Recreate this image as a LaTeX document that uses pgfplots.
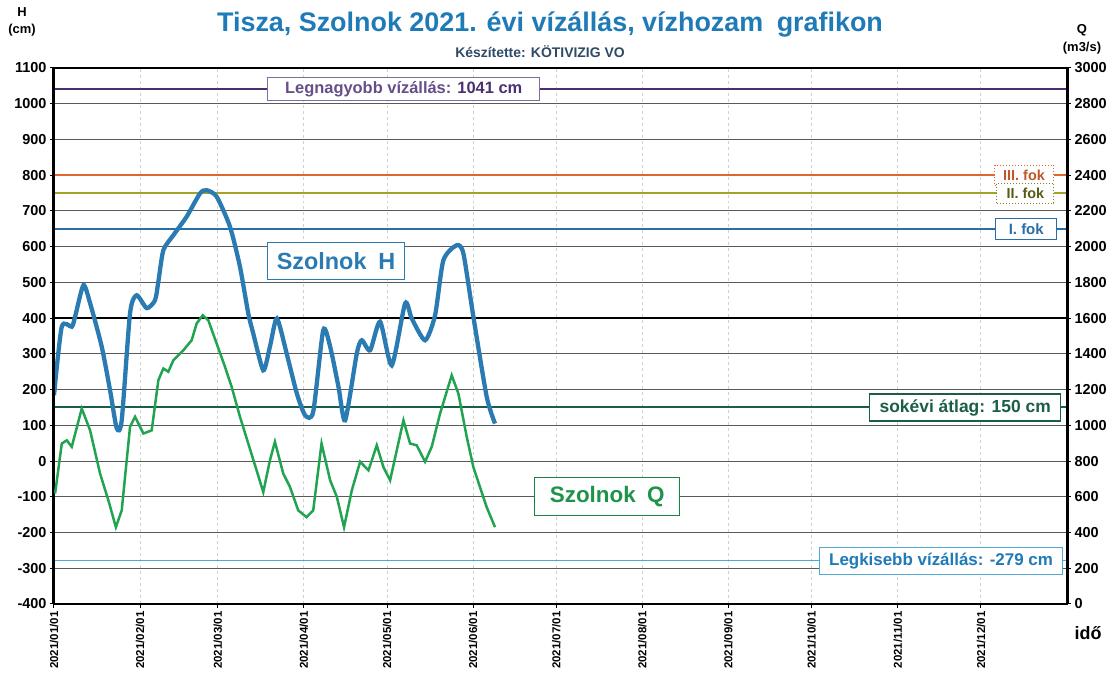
\documentclass[border=0pt]{standalone}
\usepackage{fontspec}
\setmainfont{Liberation Sans}
\usepackage{pgfplots}
\pgfplotsset{compat=1.18}
\definecolor{hblue}{HTML}{2B7BB3}
\definecolor{qgreen}{HTML}{22A352}
\definecolor{titleblue}{HTML}{1F7AB8}
\definecolor{subgray}{HTML}{2E4A66}
\definecolor{maxpurple}{HTML}{4B2F73}
\definecolor{fok3}{HTML}{E2672F}
\definecolor{fok2}{HTML}{A3A32A}
\definecolor{fok1}{HTML}{2A6EA8}
\definecolor{avggreen}{HTML}{1B5E48}
\definecolor{minblue}{HTML}{4FA9D6}
\definecolor{gridgray}{HTML}{5A5A5A}

\pgfplotsset{
  common/.style={
    at={(0,0)}, anchor=south west, scale only axis,
    width=1013bp, height=536bp,
    xmin=0, xmax=365,
    /pgf/number format/assume math mode=true,
    /pgf/number format/set thousands separator={},
    yticklabel style={font=\bfseries\fontsize{14.5}{14.5}\selectfont},
    tick style={black, line width=1bp}, major tick length=4bp, tick align=outside,
  },
}

\begin{document}
\begin{tikzpicture}[x=1bp,y=1bp]
\begin{axis}[common,
  ymin=-400, ymax=1100,
  ytick={-400,-300,...,1100},
  xtick={0,31,59,90,120,151,181,212,243,273,304,334},
  xticklabels={2021/01/01,2021/02/01,2021/03/01,2021/04/01,2021/05/01,2021/06/01,
               2021/07/01,2021/08/01,2021/09/01,2021/10/01,2021/11/01,2021/12/01},
  x tick label style={rotate=90, anchor=east, font=\bfseries\fontsize{11.5}{11.5}\selectfont},
  axis line style={black, line width=1.5bp},
  ymajorgrids, xmajorgrids,
  major y grid style={gridgray, line width=0.9bp},
  major x grid style={black!18, line width=1bp, dashed},
  ytick pos=left, xtick pos=bottom,
  clip=false,
]
  % reference levels
  \addplot[maxpurple, line width=2bp] coordinates {(0,1041) (365,1041)};
  \addplot[fok3, line width=2.2bp] coordinates {(0,800) (365,800)};
  \addplot[fok2, line width=2.2bp] coordinates {(0,750) (365,750)};
  \addplot[fok1, line width=2.2bp] coordinates {(0,650) (365,650)};
  \addplot[black, line width=2.4bp] coordinates {(0,400) (365,400)};
  \addplot[avggreen, line width=2bp] coordinates {(0,150) (365,150)};
  \addplot[minblue, line width=1bp] coordinates {(0,-279) (365,-279)};

  % Szolnok H
  \addplot[hblue, line width=4.3bp, smooth, tension=0.4] coordinates {
    (0,184) (2.8,376) (6.4,376) (7.6,404) (10.6,492) (13,442) (17.2,320)
    (20.2,198) (22.6,92) (24.4,114) (27.4,414) (29.8,464) (33.4,428) (36.4,450)
    (37.6,502) (39.4,590) (43,632) (47.8,684) (52.6,749) (55,758) (58.6,740)
    (63.4,656) (67,544) (70,413) (71.8,357) (75.4,254) (77.8,320) (80.3,399)
    (83.8,302) (87.5,189) (90.5,128) (93.4,138) (97,366) (99.5,320) (102.5,208)
    (104.9,114) (109.1,301) (110.9,338) (113.9,310) (117.5,390) (121.7,268)
    (126.5,441) (128.9,399) (133.7,338) (137.3,408) (140.3,562) (145.1,604)
    (147.5,581) (151.1,404) (155.9,180) (158.9,105)
  };

  \draw[black, line width=3bp] (rel axis cs:0,0) -- (rel axis cs:0,1);

  \node[draw=maxpurple!70, fill=white, line width=1bp, text=maxpurple!85,
        font=\bfseries\fontsize{16.5}{16.5}\selectfont, minimum width=272bp, minimum height=23bp, inner sep=2bp]
        at (axis cs:126,1041) {Legnagyobb vízállás: \textcolor{maxpurple}{1041 cm}};
  \node[draw=fok3, dotted, fill=white, line width=1bp, text=fok3!85!black,
        font=\bfseries\fontsize{14.5}{14.5}\selectfont, minimum width=59bp, minimum height=20bp, inner sep=1.5bp]
        at (axis cs:349.5,800) {III. fok};
  \node[draw=fok2!80!black, dotted, fill=white, line width=1bp, text=fok2!55!black,
        font=\bfseries\fontsize{14.5}{14.5}\selectfont, minimum width=57bp, minimum height=20bp, inner sep=1.5bp]
        at (axis cs:350,750) {II. fok};
  \node[draw=fok1, fill=white, line width=1.2bp, text=fok1,
        font=\bfseries\fontsize{15}{15}\selectfont, minimum width=61bp, minimum height=21bp, inner sep=1.5bp]
        at (axis cs:350.3,650) {I. fok};
  \node[draw=avggreen, fill=white, line width=1.2bp, text=avggreen,
        font=\bfseries\fontsize{17.5}{17.5}\selectfont, minimum width=191bp, minimum height=27bp, inner sep=2bp]
        at (axis cs:328.3,150) {sokévi átlag: 150 cm};
  \node[draw=minblue, fill=white, line width=1bp, text=titleblue,
        font=\bfseries\fontsize{17}{17}\selectfont, minimum width=243bp, minimum height=27bp, inner sep=2bp]
        at (axis cs:319.6,-279) {Legkisebb vízállás: -279 cm};
  \node[draw=hblue, fill=white, line width=1.2bp, text=hblue,
        font=\bfseries\fontsize{23.5}{23.5}\selectfont, minimum width=137bp, minimum height=37bp, inner sep=2bp]
        at (axis cs:101.6,560) {Szolnok\enspace H};
  \node[draw=qgreen!80!black, fill=white, line width=1.2bp, text=qgreen!90!black,
        font=\bfseries\fontsize{22.5}{22.5}\selectfont, minimum width=145bp, minimum height=38bp, inner sep=2bp]
        at (axis cs:199.3,-100) {Szolnok\enspace Q};
\end{axis}

\begin{axis}[common,
  ymin=0, ymax=3000,
  ytick={0,200,...,3000},
  axis x line=none, axis y line*=right,
  y axis line style={black, line width=3bp},
]
  % Szolnok Q
  \addplot[qgreen, line width=2.5bp] coordinates {
    (0.4,618) (2.8,898) (4.6,916) (6.4,880) (10,1094) (13,972) (16.6,730)
    (19.6,580) (22.3,430) (24.4,524) (27.4,992) (29.2,1048) (32.2,954) (35.2,972)
    (37.6,1252) (39.4,1318) (41.2,1300) (43,1364) (46.6,1420) (49.6,1476)
    (51.4,1570) (53.6,1616) (55.6,1588) (58.6,1458) (61.6,1328) (64,1216)
    (67,1048) (70,898) (73,748) (75.4,626) (77.8,804) (79.6,908) (82.6,730)
    (85,656) (88,524) (91,486) (93.4,524) (96.4,898) (99.5,692) (101.9,600)
    (104.5,430) (107.3,636) (110.3,796) (113.3,748) (116.3,888) (118.7,766)
    (121.1,692) (125.9,1028) (128.3,898) (130.7,888) (133.7,796) (136.1,880)
    (139.1,1066) (143.3,1280) (145.7,1178) (148.7,936) (151.1,766) (155.9,542)
    (158.9,430)
  };
\end{axis}

\node[text=titleblue, font=\bfseries\fontsize{27}{27}\selectfont] at (496,580)
  {Tisza, Szolnok 2021. évi vízállás, vízhozam\enspace grafikon};
\node[text=subgray, font=\bfseries\fontsize{14}{14}\selectfont] at (486,552)
  {Készítette: KÖTIVIZIG VO};
\node[font=\bfseries\fontsize{13}{13}\selectfont] at (-32,592) {H};
\node[font=\bfseries\fontsize{13}{13}\selectfont] at (-32,574) {(cm)};
\node[font=\bfseries\fontsize{13}{13}\selectfont] at (1028,574) {Q};
\node[font=\bfseries\fontsize{13}{13}\selectfont] at (1028,556) {(m3/s)};
\node[font=\bfseries\fontsize{18}{18}\selectfont] at (1034,-29) {idő};

\pgfresetboundingbox
\path[use as bounding box] (-54,-71) rectangle (1064,604);
\end{tikzpicture}
\end{document}
